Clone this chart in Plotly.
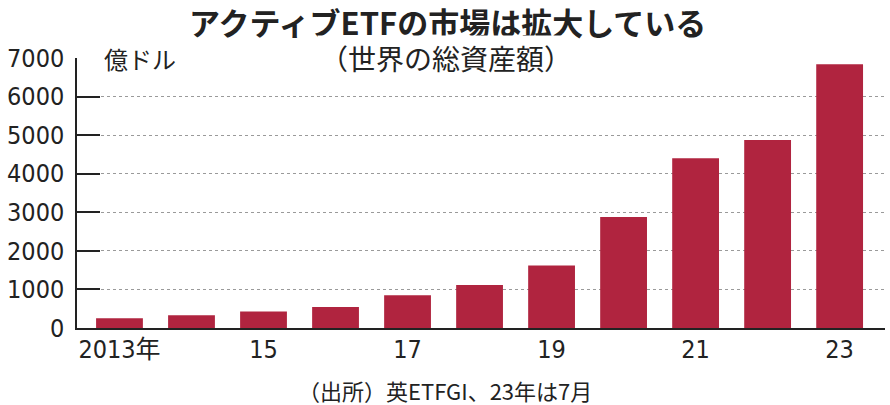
import plotly.graph_objects as go

# 世界のアクティブETF総資産額（億ドル）
years = [2013, 2014, 2015, 2016, 2017, 2018, 2019, 2020, 2021, 2022, 2023]
assets = [250, 330, 425, 545, 850, 1115, 1620, 2880, 4400, 4875, 6840]
x_tickvals = [2013, 2015, 2017, 2019, 2021, 2023]
x_ticktext = ["2013年", "15", "17", "19", "21", "23"]
y_tickvals = [0, 1000, 2000, 3000, 4000, 5000, 6000, 7000]

NUM_FONT = "Liberation Sans Narrow, DejaVu Sans Condensed, Noto Sans CJK JP"
JP_FONT = "Noto Sans CJK JP, Liberation Sans Narrow"

fig = go.Figure()
fig.add_bar(
    x=years,
    y=assets,
    marker_color="#B0243F",
    marker_line_width=0,
    width=0.65,
)

fig.update_layout(
    width=890,
    height=405,
    margin=dict(l=77, r=5, t=58, b=77),
    plot_bgcolor="white",
    paper_bgcolor="white",
    showlegend=False,
    font=dict(family=NUM_FONT, color="#222", size=25),
    xaxis=dict(
        range=[2012.41, 2023.63],
        tickvals=x_tickvals,
        ticktext=x_ticktext,
        ticks="",
        showgrid=False,
        showline=True,
        linecolor="#222",
        linewidth=1.5,
        zeroline=False,
        automargin=False,
        tickfont=dict(family=NUM_FONT, size=25, color="#222"),
        ticklabelstandoff=-2,
    ),
    yaxis=dict(
        range=[0, 7000],
        tickvals=y_tickvals,
        ticks="inside",
        ticklen=23,
        tickcolor="#222",
        tickwidth=1.5,
        showline=True,
        linecolor="#222",
        linewidth=1.5,
        showgrid=True,
        gridcolor="#9a9a9a",
        gridwidth=1,
        griddash="3px,3px",
        zeroline=False,
        automargin=False,
        tickfont=dict(family=NUM_FONT, size=25, color="#222"),
        ticklabelstandoff=6,
    ),
)

# タイトル
fig.add_annotation(
    text="アクティブETFの市場は拡大している",
    xref="paper", yref="paper", x=0.458, y=1.0, yshift=37,
    xanchor="center", yanchor="middle", showarrow=False,
    font=dict(family=JP_FONT, size=31, color="#222", weight=600),
)
# サブタイトル（7000の罫線上）
fig.add_annotation(
    text="（世界の総資産額）",
    xref="paper", yref="y", x=0.457, y=7000,
    xanchor="center", yanchor="middle", showarrow=False,
    bgcolor="white", borderpad=2,
    font=dict(family=JP_FONT, size=28, color="#222"),
)
# 単位
fig.add_annotation(
    text="億ドル",
    xref="paper", yref="y", x=0.029, y=7000,
    xanchor="left", yanchor="middle", showarrow=False,
    bgcolor="white", borderpad=3,
    font=dict(family=JP_FONT, size=24, color="#222"),
)
# 出所
fig.add_annotation(
    text="（出所）英ETFGI、23年は7月",
    xref="paper", yref="paper", x=0.456, y=0, yshift=-62,
    xanchor="center", yanchor="middle", showarrow=False,
    font=dict(family=JP_FONT, size=22, color="#222"),
)

# drop the default 8px body margin so the figure fills the window
fig.write_html(
    "out.html",
    config={"displayModeBar": False},
    post_script="document.body.style.margin = '0';",
)
